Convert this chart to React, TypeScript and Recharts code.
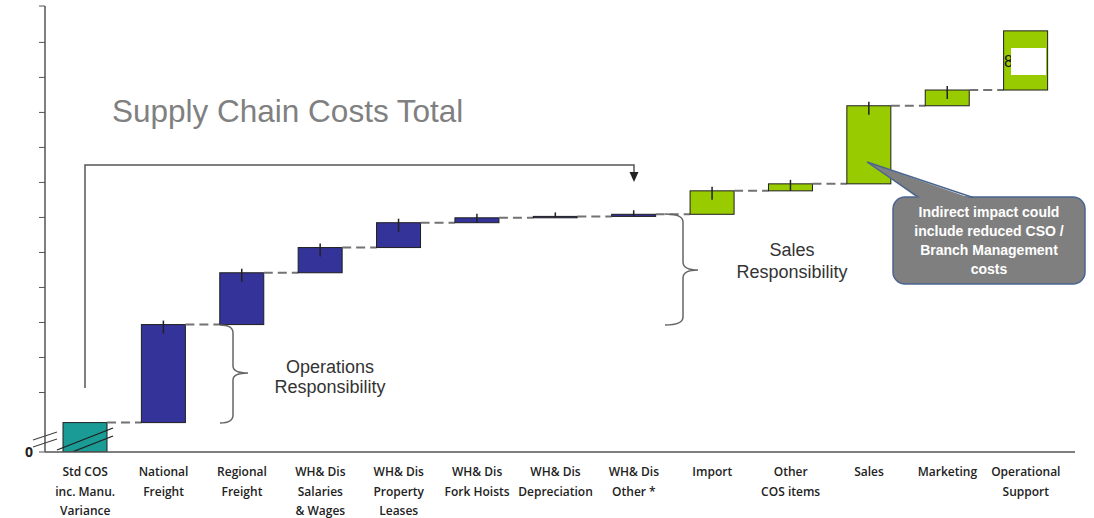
import { BarChart, Bar, XAxis, YAxis, Cell } from "recharts";

const categories = [
  "Std COS\ninc. Manu.\nVariance",
  "National\nFreight",
  "Regional\nFreight",
  "WH& Dis\nSalaries\n& Wages",
  "WH& Dis\nProperty\nLeases",
  "WH& Dis\nFork Hoists",
  "WH& Dis\nDepreciation",
  "WH& Dis\nOther *",
  "Import",
  "Other\nCOS items",
  "Sales",
  "Marketing",
  "Operational\nSupport",
];
// step sizes (arbitrary units, axis is broken)
const deltas = [8.4, 28.0, 14.8, 7.2, 7.1, 1.4, 0.4, 0.6, 6.7, 2.0, 22.3, 4.5, 16.9];
const groups = ["base", "ops", "ops", "ops", "ops", "ops", "ops", "ops", "sales", "sales", "sales", "sales", "sales"];
// small variance marker drawn at the top of the bar
const markers = [false, true, true, true, true, true, true, true, true, true, true, true, false];
const yTicks = [0, 17, 27, 37, 47, 57, 67, 77, 87, 97, 107, 117, 127.4];

const groupColors: Record<string, string> = { base: "#1a9b96", ops: "#333399", sales: "#99cc00" };

const W = 1094;
const H = 518;
const M_RIGHT = 19;
const Y_W = 45;
const PAD_L = 1;
const PAD_R = 10;
const BAR = 44;
const BAND = (W - Y_W - M_RIGHT - PAD_L - PAD_R) / categories.length;
const GAP = BAND - BAR;

let run = 0;
const rows = categories.map((name, i) => {
  const low = run;
  run += deltas[i];
  return { name, range: [low, run], group: groups[i], marker: markers[i] };
});

function StepBar(props: any) {
  const { x, y, width, height, fill, index, payload } = props;
  const top = Math.min(y, y + height);
  const h = Math.abs(height);
  const bottom = top + h;
  const cx = x + width / 2;
  return (
    <g>
      {index > 0 && (
        <line x1={x - GAP} x2={x} y1={bottom} y2={bottom} stroke="#737373" strokeWidth={2} strokeDasharray="9 5" />
      )}
      <rect x={x} y={top} width={width} height={Math.max(h, 1)} fill={fill} stroke="#1f1f1f" strokeWidth={1} />
      {payload && payload.marker && (
        <line x1={cx} x2={cx} y1={top - 4} y2={top + Math.min(9, h)} stroke="#222" strokeWidth={1.5} />
      )}
      {index === 0 && (
        <g stroke="#1f1f1f" strokeWidth={1.3}>
          <line x1={x - 6} y1={bottom - 2} x2={x + width + 6} y2={bottom - 24} />
          <line x1={x + 9} y1={bottom} x2={x + width + 6} y2={bottom - 16} />
        </g>
      )}
    </g>
  );
}

function CatTick(props: any) {
  const { x, y, payload } = props;
  const lines = String(payload.value).split("\n");
  return (
    <text x={x} y={y} textAnchor="middle" fill="#222" fontFamily="Open Sans" fontWeight={600} fontSize={12}>
      {lines.map((l, i) => (
        <tspan key={i} x={x} y={y + 16 + i * 19.5}>
          {l}
        </tspan>
      ))}
    </text>
  );
}

export default function App() {
  return (
    <div style={{ position: "absolute", left: 0, top: 0, width: W, height: H, background: "#fff" }}>
      <BarChart width={W} height={H} data={rows} margin={{ top: 6, right: M_RIGHT, bottom: 0, left: 0 }} barSize={BAR}>
        <XAxis
          dataKey="name"
          interval={0}
          height={66}
          tickLine={false}
          axisLine={{ stroke: "#555", strokeWidth: 1.5 }}
          padding={{ left: PAD_L, right: PAD_R }}
          tick={<CatTick />}
        />
        <YAxis
          type="number"
          domain={[0, 127.4]}
          ticks={yTicks}
          interval={0}
          width={Y_W}
          tickSize={6}
          tickMargin={6}
          allowDataOverflow
          axisLine={{ stroke: "#555", strokeWidth: 1.5 }}
          tickLine={{ stroke: "#555" }}
          tickFormatter={(v: number) => (v === 0 ? "0" : "")}
          tick={{ fill: "#222", fontSize: 14, fontWeight: 700, fontFamily: "Open Sans" }}
        />
        <Bar dataKey="range" isAnimationActive={false} shape={<StepBar />}>
          {rows.map((r, i) => (
            <Cell key={i} fill={groupColors[r.group]} />
          ))}
        </Bar>
      </BarChart>
      <svg
        width={W}
        height={H}
        style={{ position: "absolute", left: 0, top: 0, pointerEvents: "none" }}
        fontFamily="Liberation Sans"
      >
        <text x={112} y={122} fontSize={31.5} fill="#808080">
          Supply Chain Costs Total
        </text>
        {/* axis break */}
        <g stroke="#444" strokeWidth={1.3}>
          <line x1={33} y1={440} x2={57} y2={432} />
          <line x1={33} y1={447} x2={57} y2={439} />
        </g>
        {/* overall bracket */}
        <path d="M85 388 V165 H634 V172" stroke="#555" strokeWidth={1.5} fill="none" />
        <polygon points="629.5,172 638.5,172 634,182" fill="#222" />
        {/* braces */}
        <path
          d="M220 325 Q233 325 233 333 V366 Q233 373 248 373 Q233 373 233 380 V415 Q233 423 220 423"
          stroke="#666"
          strokeWidth={1.5}
          fill="none"
        />
        <path
          d="M665 214 Q683 214 683 222 V262 Q683 270 698 270 Q683 270 683 278 V317 Q683 325 665 325"
          stroke="#666"
          strokeWidth={1.5}
          fill="none"
        />
        <text x={330} y={373} fontSize={18} fill="#333" textAnchor="middle">
          Operations
        </text>
        <text x={330} y={393} fontSize={18} fill="#333" textAnchor="middle">
          Responsibility
        </text>
        <text x={792} y={256} fontSize={18} fill="#333" textAnchor="middle">
          Sales
        </text>
        <text x={792} y={278} fontSize={18} fill="#333" textAnchor="middle">
          Responsibility
        </text>
        {/* callout */}
        <rect x={893} y={197} width={192} height={87} rx={12} fill="#7f7f7f" stroke="#4a6591" strokeWidth={1.5} />
        <polygon points="919,199 973,199 867,162" fill="#7f7f7f" />
        <polyline points="919,197.5 867,162 973,197.5" stroke="#4a6591" strokeWidth={1.5} fill="none" />
        <g fill="#fff" fontSize={14} fontWeight={700} textAnchor="middle">
          <text x={989} y={217}>Indirect impact could</text>
          <text x={989} y={236}>include reduced CSO /</text>
          <text x={989} y={255}>Branch Management</text>
          <text x={989} y={274}>costs</text>
        </g>
        {/* covered value label on the last bar */}
        <text x={1004} y={67} fontSize={16} fill="#111">
          8
        </text>
        <rect x={1011} y={48} width={35} height={27} fill="#fff" />
      </svg>
    </div>
  );
}
